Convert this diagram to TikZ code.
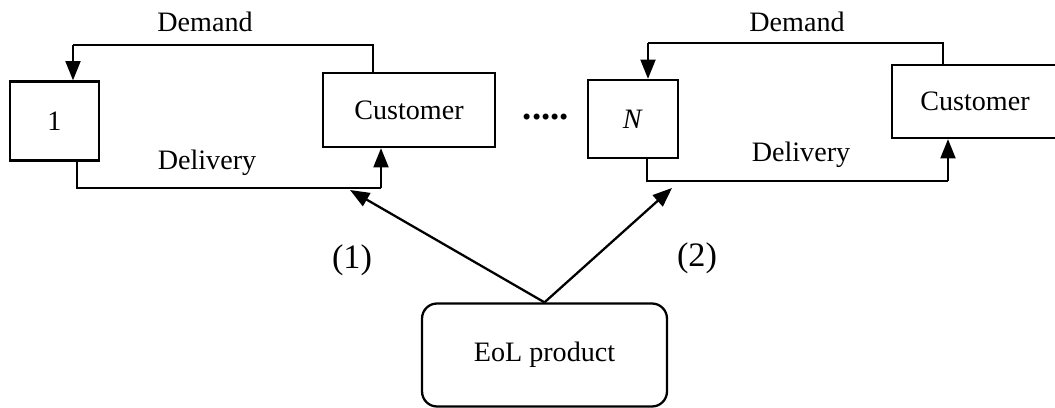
\documentclass[tikz,border=0pt]{standalone}
\usepackage{fontspec}
\setmainfont{Liberation Serif}
\usepackage{tikz}
\usetikzlibrary{arrows.meta}

\begin{document}
\begin{tikzpicture}[
      x=0.02cm, y=-0.02cm,
      font=\fontsize{16}{19}\selectfont,
      sbox/.style={draw, line width=1.3pt, inner sep=0pt, align=center},
      conn/.style={line width=0.6pt},
      arr/.style={-{Triangle[length=11pt, width=8.5pt]}, line width=1.3pt},
      lbl/.style={inner sep=0pt},
  ]
  \useasboundingbox (0,0) rectangle (1055,408);
  \clip (0,0) rectangle (1055,408);

  %% retailer 1 and its customer
  \node[sbox, minimum width=1.78cm, minimum height=1.58cm] (box1) at (54.5,121) {1};
  \node[sbox, minimum width=3.44cm, minimum height=1.48cm] (cust1) at (409,110) {Customer};

  %% retailer N and its customer
  \node[sbox, minimum width=1.8cm, minimum height=1.56cm] (boxN) at (633,119) {\textit{N}};
  \node[sbox, minimum width=3.32cm, minimum height=1.46cm] (cust2) at (975,101.5) {Customer};

  \node[lbl, font=\fontsize{21}{24}\selectfont] (dots) at (546,117) {\textbf{.....}};

  %% end-of-life product
  \node[sbox, rounded corners=0.3cm, minimum width=4.9cm, minimum height=2.06cm] (eol) at (544.5,355) {EoL product};

  %% corners of the loops
  \coordinate (dem1a) at (373,45);
  \coordinate (dem1b) at (73,45);
  \coordinate (del1a) at (77,188);
  \coordinate (del1b) at (381,188);
  \coordinate (dem2a) at (943,43);
  \coordinate (dem2b) at (648,43);
  \coordinate (del2a) at (647,181);
  \coordinate (del2b) at (948,181);
  \coordinate (tip1) at (350,190);
  \coordinate (tip2) at (672,188);

  %% Demand / Delivery loops
  \draw[conn] (cust1.north -| dem1a) -- (dem1a) -- (dem1b);
  \draw[arr]  (dem1b) -- (box1.north -| dem1b);
  \draw[conn] (box1.south -| del1a) -- (del1a) -- (del1b);
  \draw[arr]  (del1b) -- (cust1.south -| del1b);

  \draw[conn] (cust2.north -| dem2a) -- (dem2a) -- (dem2b);
  \draw[arr]  (dem2b) -- (boxN.north -| dem2b);
  \draw[conn] (boxN.south -| del2a) -- (del2a) -- (del2b);
  \draw[arr]  (del2b) -- (cust2.south -| del2b);

  \node[lbl] (dmd1) at (205,22) {Demand};
  \node[lbl] (dlv1) at (207,163) {Delivery};
  \node[lbl] (dmd2) at (797,22) {Demand};
  \node[lbl] (dlv2) at (801,155) {Delivery};

  %% Arrows from the EoL product
  \draw[arr] (eol.north) -- (tip1);
  \draw[arr] (eol.north) -- (tip2);
  \node[lbl, font=\fontsize{19.5}{22}\selectfont] (opt1) at (352,260) {(1)};
  \node[lbl, font=\fontsize{19.5}{22}\selectfont] (opt2) at (697,258) {(2)};

\end{tikzpicture}
\end{document}
